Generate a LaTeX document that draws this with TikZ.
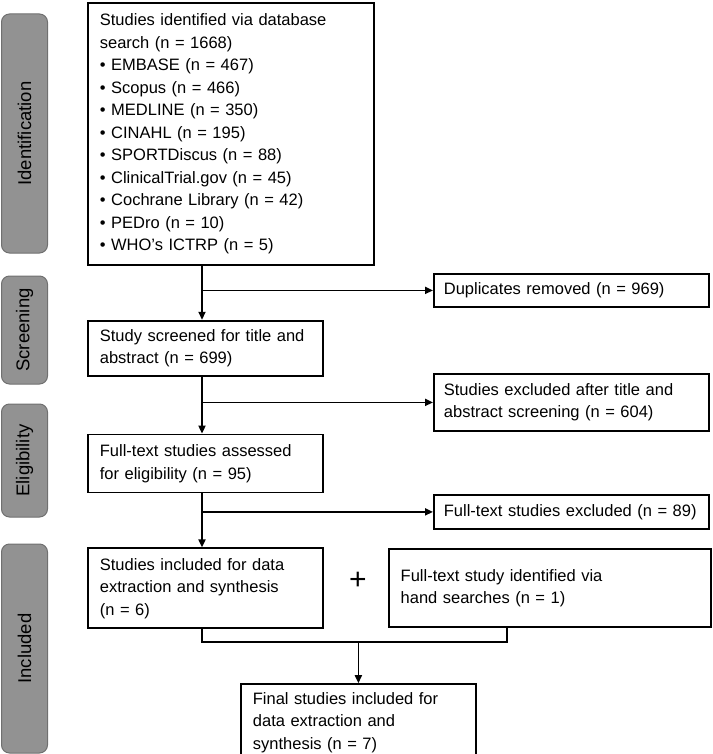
\documentclass[tikz,border=0pt]{standalone}
\usepackage{fontspec}
\setmainfont{Liberation Sans}
\usetikzlibrary{positioning, arrows.meta, calc}
\definecolor{mygray}{RGB}{146,146,146}
\definecolor{mydarkgray}{RGB}{112,112,112}

\begin{document}
\begin{tikzpicture}[x=1pt, y=-1pt,
   every node/.style = {font=\fontsize{16.5}{22.5}\selectfont},
   node distance     = 54pt,
      stepNode/.style  = {rectangle, draw, line width=1.8pt, align=left, inner xsep=12pt, inner ysep=0pt},
      sideNode/.style  = {stepNode, inner xsep=10pt, text width=255pt},
      phaseNode/.style = {rectangle, rounded corners=8pt, draw=mydarkgray, fill=mygray, line width=1pt, rotate=90,
                          minimum height=46pt, font=\fontsize{18.5}{22}\selectfont},
      myarrow/.style   = {line width=1.8pt, -{Triangle[length=8pt, width=7pt]}},
      myline/.style    = {line width=1.8pt}
]
    \useasboundingbox (0,0) rectangle (712,754);

    % phase labels on the left
    \node[phaseNode, minimum width=239pt] (identification) at (24.5,133.5) {Identification};
    \node[phaseNode, minimum width=108pt] (screening) at (24.5,330) {Screening};
    \node[phaseNode, minimum width=113pt] (eligibility) at (24.5,460.5) {Eligibility};
    \node[phaseNode, minimum width=209pt] (includedphase) at (24.5,648.5) {Included};

    % main column
    \node[stepNode, anchor=north west, text width=262pt, minimum height=262pt] (identified) at (87,2)
        {Studies identified via database\\ search (n = 1668)\\
         \textbullet\ EMBASE (n = 467)\\ \textbullet\ Scopus (n = 466)\\
         \textbullet\ MEDLINE (n = 350)\\ \textbullet\ CINAHL (n = 195)\\
         \textbullet\ SPORTDiscus (n = 88)\\ \textbullet\ ClinicalTrial.gov (n = 45)\\
         \textbullet\ Cochrane Library (n = 42)\\ \textbullet\ PEDro (n = 10)\\
         \textbullet\ WHO’s ICTRP (n = 5)};

    \node[stepNode, below=of identified.south west, anchor=north west, text width=211pt, minimum height=55pt] (screened)
        {Study screened for title and\\ abstract (n = 699)};
    \node[stepNode, below=57pt of screened.south west, anchor=north west, text width=211pt, minimum height=58pt] (assessed)
        {Full-text studies assessed\\ for eligibility (n = 95)};
    \node[stepNode, below=of assessed.south west, anchor=north west, text width=211pt, minimum height=80pt] (included)
        {Studies included for data\\ extraction and synthesis\\ (n = 6)};
    \node[stepNode, right=64pt of included.north east, anchor=north west, yshift=-1pt, text width=298pt, minimum height=78pt] (hand)
        {Full-text study identified via\\ hand searches (n = 1)};
    \node[font=\fontsize{30}{30}\selectfont] (plus) at (358,581) {+};
    \node[stepNode, below=of included.south west, anchor=north west, xshift=153pt, text width=211pt, minimum height=77pt] (final)
        {Final studies included for\\ data extraction and\\ synthesis (n = 7)};

    % excluded on the right
    \node[sideNode, anchor=north west, minimum height=33pt] (duplicates) at (433,273)
        {\mbox{Duplicates removed (n = 969)}};
    \node[sideNode, anchor=north west, minimum height=57pt] (excluded) at (433,373)
        {Studies excluded after title and\\ abstract screening (n = 604)};
    \node[sideNode, anchor=north west, minimum height=34pt] (fulltextout) at (433,494)
        {\mbox{Full-text studies excluded (n = 89)}};

    \coordinate (trunk) at (202,0);
    \coordinate (handfoot) at (507,642);

    \draw[myarrow] (identified.south -| trunk) -- (screened.north -| trunk);
    \draw[myarrow] (screened.south -| trunk) -- (assessed.north -| trunk);
    \draw[myarrow] (assessed.south -| trunk) -- (included.north -| trunk);

    \draw[myarrow] (trunk |- duplicates.west) -- (duplicates.west);
    \draw[myarrow] (trunk |- excluded.west) -- (excluded.west);
    \draw[myarrow] (trunk |- fulltextout.west) -- (fulltextout.west);

    \draw[myline] (included.south -| trunk) |- (handfoot) -- (hand.south -| handfoot);
    \draw[myarrow] (final.north |- handfoot) -- (final.north);
\end{tikzpicture}
\end{document}
